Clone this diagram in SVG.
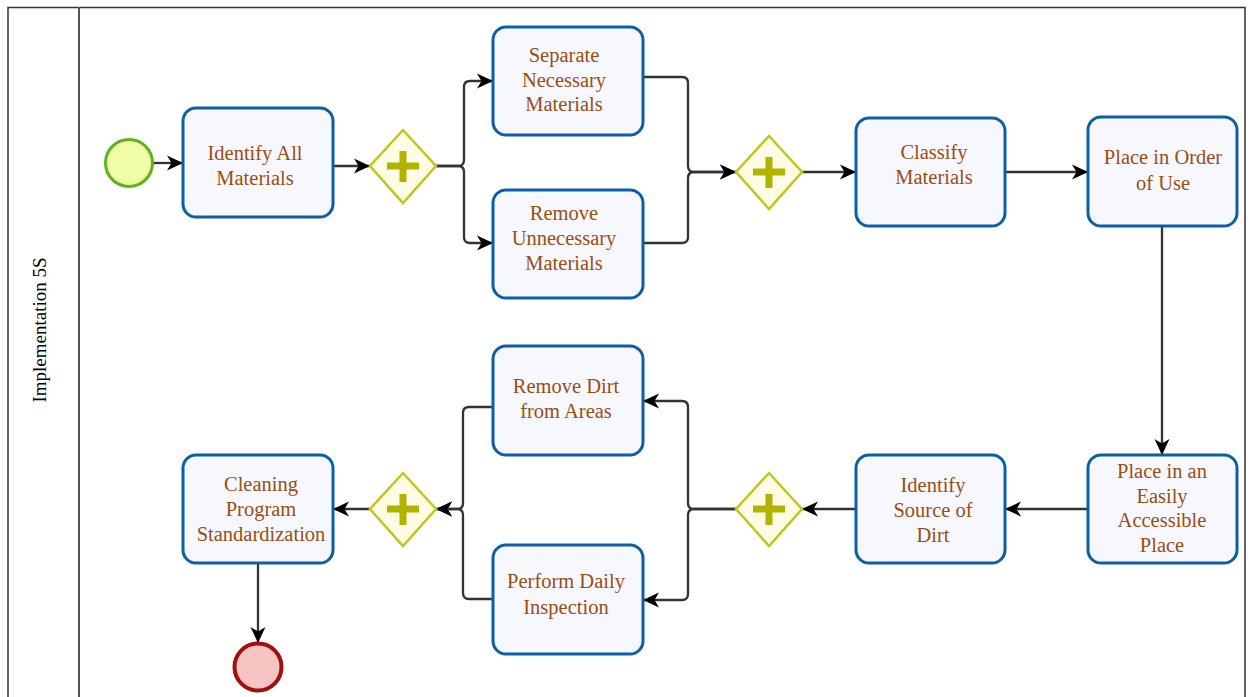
<svg xmlns="http://www.w3.org/2000/svg" width="1252" height="697" viewBox="0 0 1252 697">
  <defs>
    <marker id="arrow" markerUnits="userSpaceOnUse" markerWidth="18" markerHeight="18" refX="16" refY="9" orient="auto">
      <path d="M0,1.5 L16,9 L0,16.5 L4.5,9 Z" fill="#000"/>
    </marker>
    <style>
      .task rect { fill: #f6f8fe; stroke: #0b5fa8; stroke-width: 3; }
      .task text { font-family: "Liberation Serif", "Times New Roman", serif; font-size: 20.5px; fill: #9c4d10; text-anchor: middle; }
      .gw polygon { fill: #fdfde6; stroke: #c4c41a; stroke-width: 2.5; }
      .gw path { stroke: #b2b200; stroke-width: 7; fill: none; }
      .flow path { fill: none; stroke: #333; stroke-width: 2.3; marker-end: url(#arrow); }
      .lane { fill: none; stroke: #333; stroke-width: 1.5; }
    </style>
  </defs>
  <rect width="1252" height="697" fill="#fff"/>

  <!-- pool / lane frame -->
  <path class="lane" d="M8,700 L8,7.5 L1245,7.5 L1245,700"/>
  <line x1="79" y1="7" x2="79" y2="697" stroke="#555" stroke-width="2"/>
  <text x="46" y="330" transform="rotate(-90 46 330)" font-family="Liberation Serif, serif" font-size="19" text-anchor="middle" fill="#000">Implementation 5S</text>

  <!-- sequence flows -->
  <g class="flow">
    <path d="M153,163 L183,163"/>
    <path d="M333,166 L370,166"/>
    <path d="M436,166 L458,166 Q464,166 464,160 L464,87 Q464,81 470,81 L493,81"/>
    <path d="M436,166 L458,166 Q464,166 464,172 L464,237 Q464,243 470,243 L493,243"/>
    <path d="M643,77 L682,77 Q688,77 688,83 L688,166 Q688,172 694,172 L736,172"/>
    <path d="M643,243 L682,243 Q688,243 688,237 L688,178 Q688,172 694,172 L736,172"/>
    <path d="M802,172 L856,172"/>
    <path d="M1005,172 L1088,172"/>
    <path d="M1162,226 L1162,455"/>
    <path d="M1088,509 L1005,509"/>
    <path d="M856,509 L802,509"/>
    <path d="M736,509 L694,509 Q688,509 688,503 L688,407 Q688,401 682,401 L643,401"/>
    <path d="M736,509 L694,509 Q688,509 688,515 L688,594 Q688,600 682,600 L643,600"/>
    <path d="M493,407 L469,407 Q463,407 463,413 L463,503 Q463,509 457,509 L436,509"/>
    <path d="M493,599 L469,599 Q463,599 463,593 L463,515 Q463,509 457,509 L436,509"/>
    <path d="M370,509 L333,509"/>
    <path d="M258,563 L258,643"/>
  </g>

  <!-- events -->
  <g id="start">
    <circle cx="129" cy="163" r="23.5" fill="#f0fca6" stroke="#5db31c" stroke-width="3"/>
  </g>
  <g id="end">
    <circle cx="258" cy="667" r="23.5" fill="#f7c4c4" stroke="#a10f0f" stroke-width="4"/>
  </g>

  <!-- tasks -->
  <g id="identify-all" class="task">
    <rect x="183" y="108" width="150" height="109" rx="13"/>
    <text x="255" y="160">Identify All</text>
    <text x="255" y="185">Materials</text>
  </g>
  <g id="separate" class="task">
    <rect x="493" y="27" width="150" height="108" rx="13"/>
    <text x="564" y="62">Separate</text>
    <text x="564" y="87">Necessary</text>
    <text x="564" y="111">Materials</text>
  </g>
  <g id="remove-unnecessary" class="task">
    <rect x="493" y="190" width="150" height="108" rx="13"/>
    <text x="564" y="220">Remove</text>
    <text x="564" y="245">Unnecessary</text>
    <text x="564" y="270">Materials</text>
  </g>
  <g id="classify" class="task">
    <rect x="856" y="118" width="149" height="108" rx="13"/>
    <text x="934" y="159">Classify</text>
    <text x="934" y="184">Materials</text>
  </g>
  <g id="order-of-use" class="task">
    <rect x="1088" y="117" width="149" height="109" rx="13"/>
    <text x="1163" y="164">Place in Order</text>
    <text x="1163" y="190">of Use</text>
  </g>
  <g id="accessible-place" class="task">
    <rect x="1088" y="455" width="149" height="108" rx="13"/>
    <text x="1162" y="478">Place in an</text>
    <text x="1162" y="503">Easily</text>
    <text x="1162" y="527">Accessible</text>
    <text x="1162" y="552">Place</text>
  </g>
  <g id="source-of-dirt" class="task">
    <rect x="856" y="455" width="149" height="108" rx="13"/>
    <text x="933" y="492">Identify</text>
    <text x="933" y="517">Source of</text>
    <text x="933" y="542">Dirt</text>
  </g>
  <g id="remove-dirt" class="task">
    <rect x="493" y="346" width="150" height="109" rx="13"/>
    <text x="566" y="393">Remove Dirt</text>
    <text x="566" y="418">from Areas</text>
  </g>
  <g id="daily-inspection" class="task">
    <rect x="493" y="545" width="150" height="109" rx="13"/>
    <text x="566" y="588">Perform Daily</text>
    <text x="566" y="614">Inspection</text>
  </g>
  <g id="standardization" class="task">
    <rect x="183" y="455" width="150" height="108" rx="13"/>
    <text x="261" y="491">Cleaning</text>
    <text x="261" y="516">Program</text>
    <text x="261" y="541">Standardization</text>
  </g>

  <!-- parallel gateways -->
  <g id="gw-split-sort" class="gw">
    <polygon points="403,130 436,166 403,203 370,166"/>
    <path d="M403,151 L403,182 M387,166 L419,166"/>
  </g>
  <g id="gw-join-sort" class="gw">
    <polygon points="769,136 802,172 769,209 736,172"/>
    <path d="M769,157 L769,188 M753,172 L785,172"/>
  </g>
  <g id="gw-split-clean" class="gw">
    <polygon points="769,473 802,509 769,546 736,509"/>
    <path d="M769,494 L769,525 M753,509 L785,509"/>
  </g>
  <g id="gw-join-clean" class="gw">
    <polygon points="403,473 436,509 403,546 370,509"/>
    <path d="M403,494 L403,525 M387,509 L419,509"/>
  </g>
</svg>
